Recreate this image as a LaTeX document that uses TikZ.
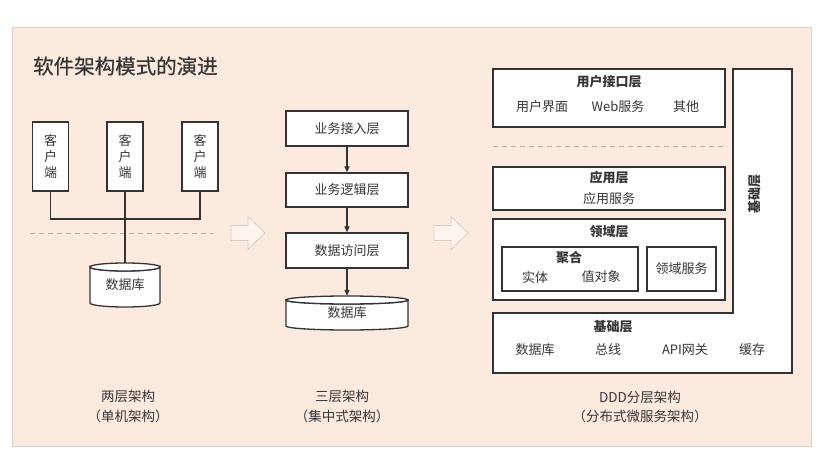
\documentclass[tikz,border=0pt]{standalone}
\usepackage{fontspec}
\setmainfont{Noto Sans CJK SC}
\newfontfamily\titlefont{Noto Sans CJK SC}[FakeBold=0.6]
\usepackage{tikz}
\usetikzlibrary{positioning,arrows.meta,calc}
\definecolor{peach}{HTML}{FCEADF}
\definecolor{ink}{HTML}{333333}
\definecolor{textgray}{HTML}{363636}
\definecolor{rulegray}{HTML}{B5ADA6}
\definecolor{framegray}{HTML}{D9D2CC}
\definecolor{ghost}{HTML}{D9CEC6}

% database drum: cx, top, bottom, half width
\newcommand{\drum}[4]{%
  \draw[box] (#1-#4,#2+4) -- (#1-#4,#3-4)
    arc[start angle=180,end angle=0,x radius=#4,y radius=4]
    -- (#1+#4,#2+4)
    arc[start angle=0,end angle=180,x radius=#4,y radius=4] -- cycle;
  \draw[box] (#1,#2+4) ellipse[x radius=#4,y radius=4];}

% hollow block arrow: left x, mid y
\newcommand{\hollowarrow}[2]{%
  \draw[ghostarrow] (#1,#2-7.5) -- ++(17,0) -- ++(0,-9) -- (#1+34,#2)
    -- (#1+17,#2+16.5) -- ++(0,-9) -- (#1,#2+7.5) -- cycle;}

\begin{document}
\begin{tikzpicture}[x=1pt,y=-1pt,
    box/.style={draw=ink, line width=1.3pt, fill=white},
    txt/.style={text=textgray, font=\fontsize{13}{15}\selectfont, inner sep=0pt},
    head/.style={txt, font=\bfseries\fontsize{13}{15}\selectfont},
    client/.style={box, txt, minimum width=36pt, minimum height=69pt,
      align=center, font=\fontsize{13}{16}\selectfont},
    tier/.style={box, txt, minimum width=122pt, minimum height=35pt},
    caption/.style={txt, align=center, font=\fontsize{13.5}{19.5}\selectfont},
    ghostarrow/.style={draw=ghost, line width=0.8pt, fill=peach!50!white},
    link/.style={draw=ink, line width=1.3pt},
    flow/.style={link, -{Triangle[length=6pt,width=5pt]}},
    sep/.style={draw=rulegray, line width=0.8pt, dash pattern=on 5pt off 4pt}]

  % Frame
  \useasboundingbox (0,0) rectangle (821,457);
  \fill[white] (0,0) rectangle (821,457);
  \draw[framegray, fill=peach] (12,27) rectangle (811,446);

  % Title
  \node[txt, anchor=west, font=\titlefont\fontsize{20.5}{24}\selectfont] (title)
    at (33,66) {软件架构模式的演进};

  % Two-tier
  \foreach \name/\cx in {cA/50.5, cB/125, cC/200}
    \node[client] (\name) at (\cx,156.5) {客\\户\\端};
  \coordinate (bus) at (125,219);
  \draw[link] (cA.south) |- (bus) -| (cC.south);
  \draw[sep] (30,233) -- (213,233);
  \drum{125}{263}{307}{35}
  \node[txt, minimum width=70pt, minimum height=44pt] (dbA) at (125,285) {数据库};
  \draw[link] (cB.south) -- (dbA.north);
  \node[caption] (capA) at (128,406.5) {两层架构\\（单机架构）};

  \hollowarrow{231}{233}
  \hollowarrow{434}{233}

  % Three-tier
  \node[tier] (access) at (347,128.5) {业务接入层};
  \node[tier, minimum height=34pt] (logic) at (347,190) {业务逻辑层};
  \node[tier] (dao) at (347,250.5) {数据访问层};
  \drum{347}{296}{330}{61}
  \node[txt, minimum width=122pt, minimum height=34pt] (dbB) at (347,313) {数据库};
  \draw[flow] (access) -- (logic);
  \draw[flow] (logic) -- (dao);
  \draw[flow] (dao) -- (dbB.north);
  \node[caption] (capB) at (342,406.5) {三层架构\\（集中式架构）};

  % DDD layers
  \node[box, minimum width=232pt, minimum height=58pt] (ui) at (609,98) {};
  \node[head] (uiT) at (609,82) {用户接口层};
  \node[txt] (uiA) at (542,107) {用户界面};
  \node[txt] (uiB) at (618,107) {Web服务};
  \node[txt] (uiC) at (686,107) {其他};
  \draw[sep] (493,146) -- (727,146);

  \node[box, minimum width=232pt, minimum height=43pt] (app) at (609,188.5) {};
  \node[head] (appT) at (609,178) {应用层};
  \node[txt] (appS) at (609,199) {应用服务};

  \node[box, minimum width=232pt, minimum height=81pt] (dom) at (609,259.5) {};
  \node[head] (domT) at (609,232) {领域层};
  \node[box, minimum width=136pt, minimum height=44pt] (agg) at (570,269) {};
  \node[head] (aggT) at (569,258) {聚合};
  \node[txt] (ent) at (535,277) {实体};
  \node[txt] (vo) at (601,277) {值对象};
  \node[box, txt, minimum width=69pt, minimum height=44pt] (svc) at (681.5,269) {领域服务};

  % Infrastructure
  \draw[box] (493,313) -- (733,313) -- (733,69) -- (792,69) -- (792,373)
    -- (493,373) -- cycle;
  \node[head] (infT) at (613,327) {基础层};
  \node[txt] (infA) at (535,350) {数据库};
  \node[txt] (infB) at (608,350) {总线};
  \node[txt] (infC) at (685,350) {API网关};
  \node[txt] (infD) at (752,350) {缓存};
  \node[head, rotate=90] (infV) at (755,194) {基础层};
  \node[caption] (capC) at (640,407) {DDD分层架构\\（分布式微服务架构）};
\end{tikzpicture}
\end{document}
